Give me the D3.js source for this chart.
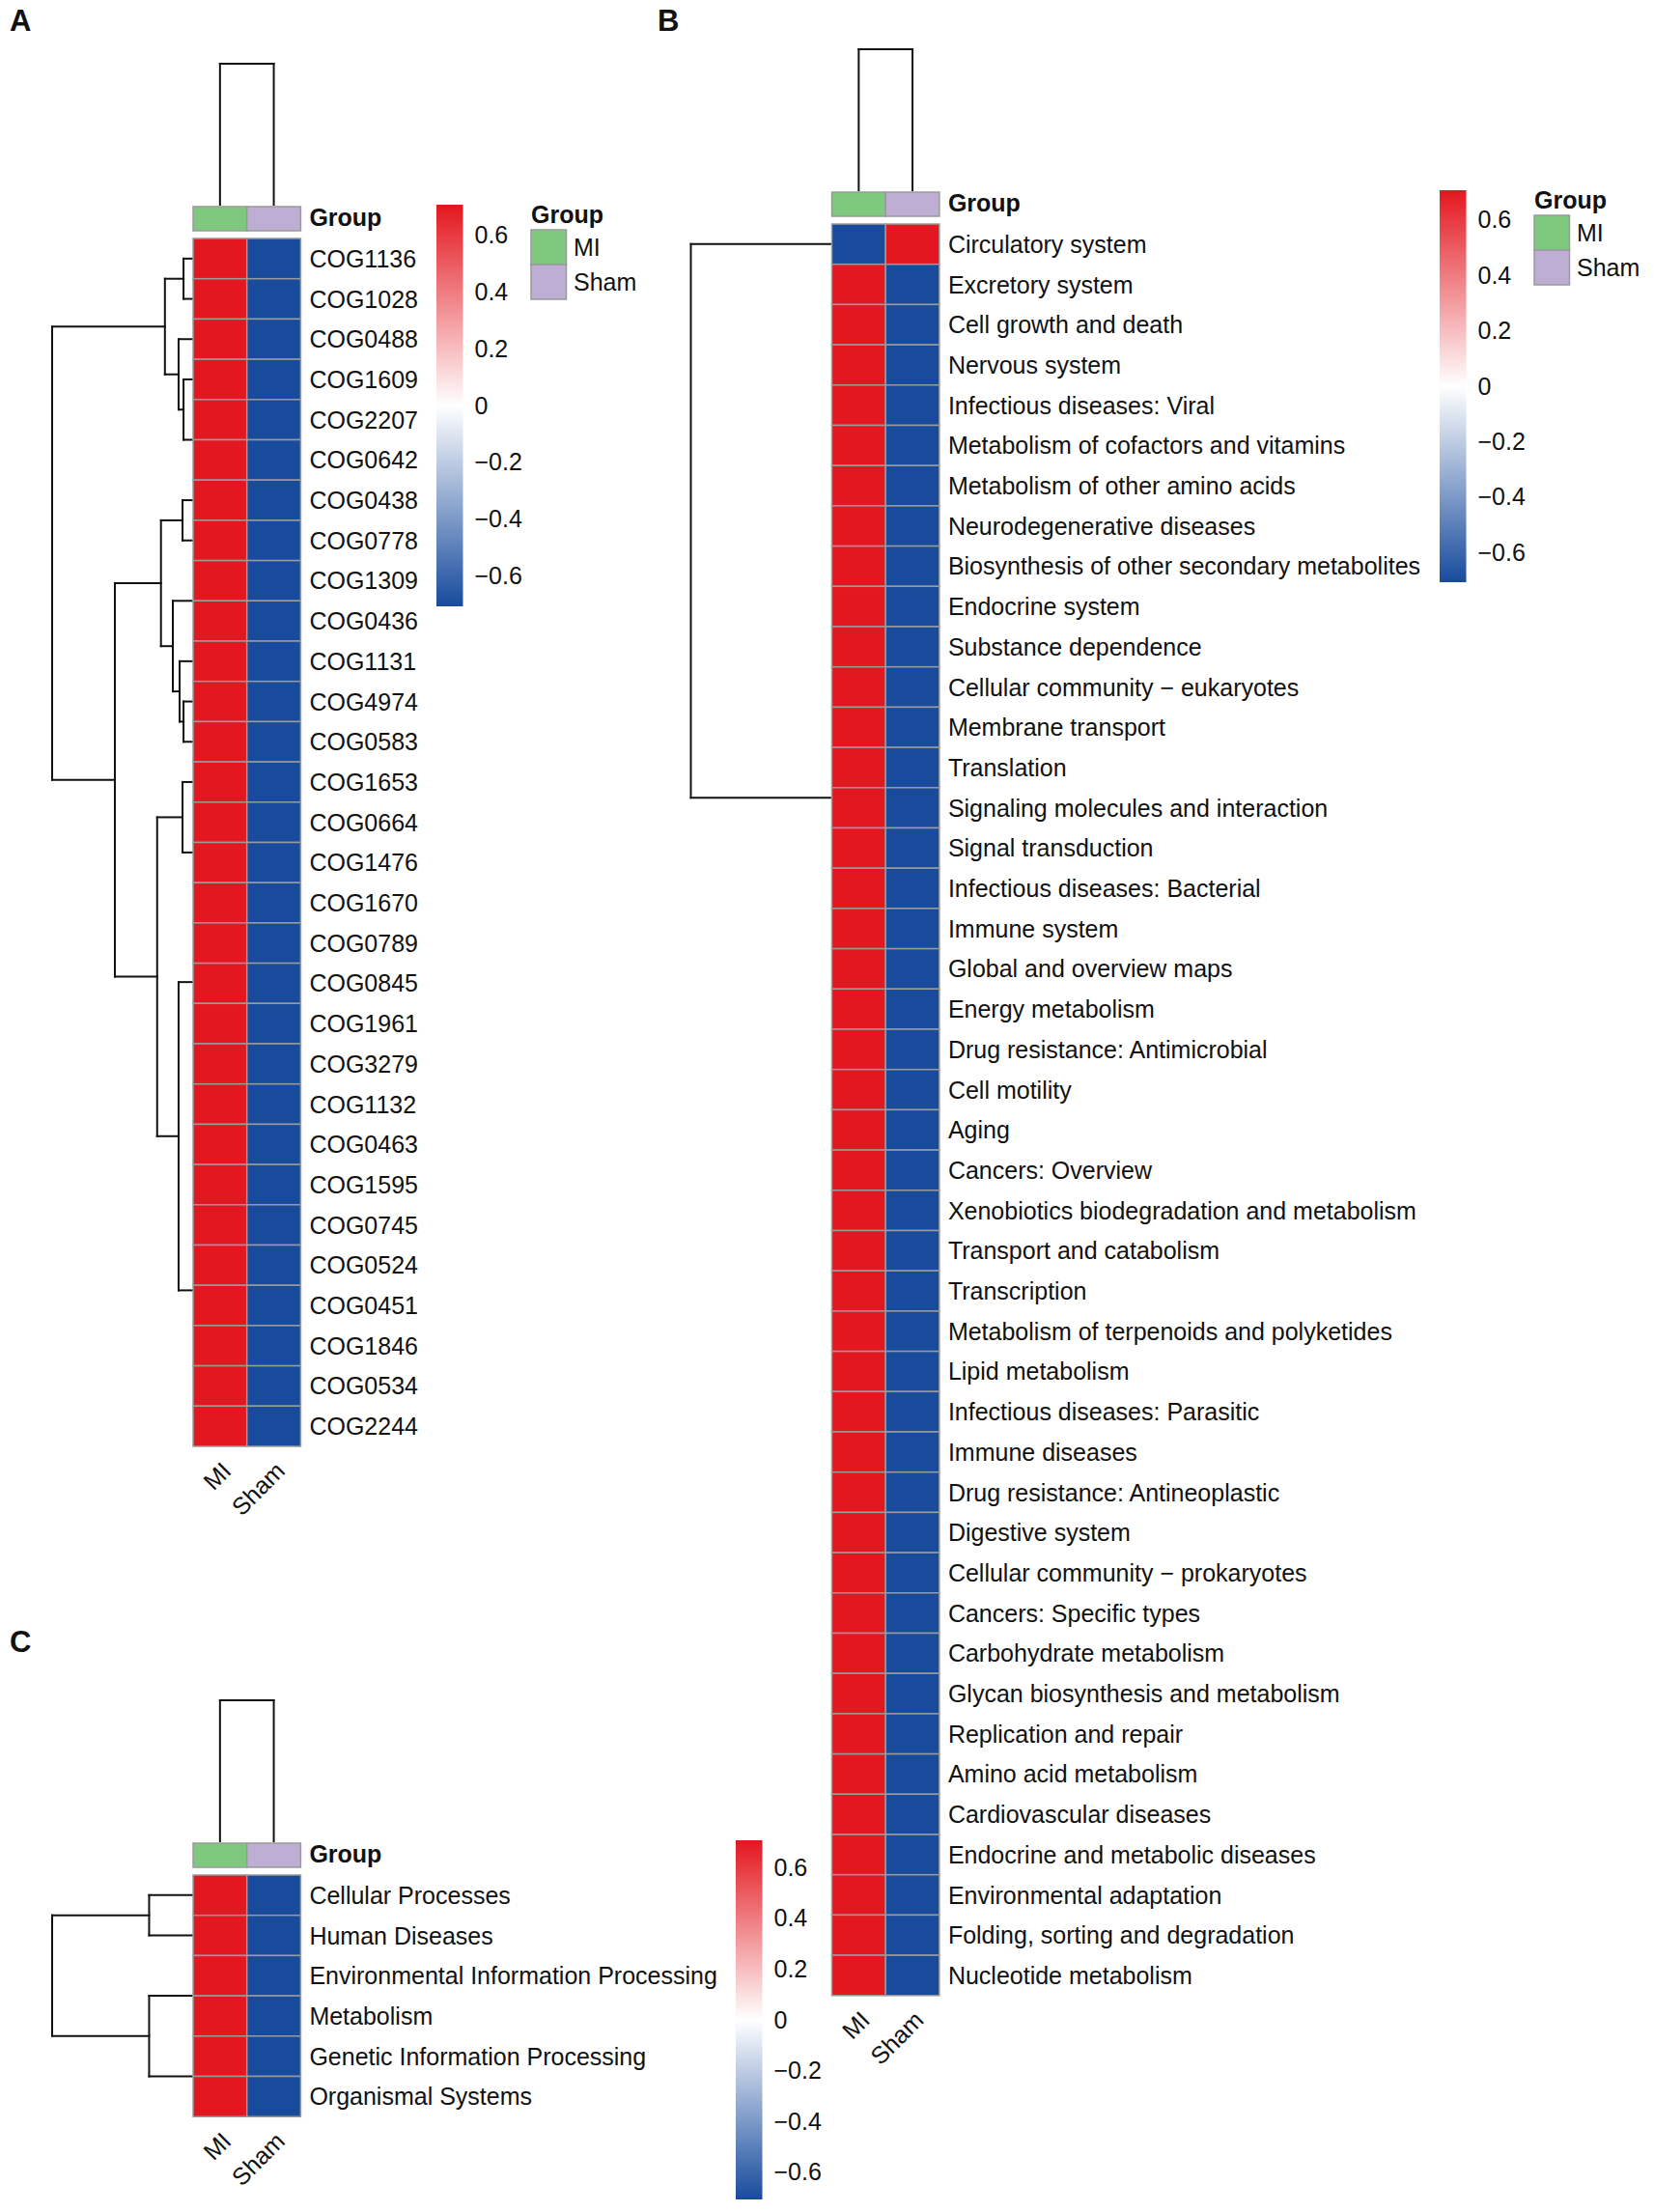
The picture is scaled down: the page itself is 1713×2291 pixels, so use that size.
<!DOCTYPE html>
<html>
<head>
<meta charset="utf-8">
<script src="https://cdn.jsdelivr.net/npm/d3@7"></script>
<style>
  body { margin: 0; background: #fff; }
  text { font-family: "Liberation Sans", Arial, sans-serif; fill: #111; }
</style>
</head>
<body>
<script>
// groups (columns) shared by the three heatmaps
const groups = ["MI", "Sham"];

// panel A: COG rows, row-scaled values
const rowsA = ["COG1136", "COG1028", "COG0488", "COG1609", "COG2207", "COG0642",
  "COG0438", "COG0778", "COG1309", "COG0436", "COG1131", "COG4974", "COG0583",
  "COG1653", "COG0664", "COG1476", "COG1670", "COG0789", "COG0845", "COG1961",
  "COG3279", "COG1132", "COG0463", "COG1595", "COG0745", "COG0524", "COG0451",
  "COG1846", "COG0534", "COG2244"];
const miA = [0.707, 0.707, 0.707, 0.707, 0.707, 0.707, 0.707, 0.707, 0.707, 0.707,
  0.707, 0.707, 0.707, 0.707, 0.707, 0.707, 0.707, 0.707, 0.707, 0.707,
  0.707, 0.707, 0.707, 0.707, 0.707, 0.707, 0.707, 0.707, 0.707, 0.707];
const shamA = [-0.707, -0.707, -0.707, -0.707, -0.707, -0.707, -0.707, -0.707, -0.707, -0.707,
  -0.707, -0.707, -0.707, -0.707, -0.707, -0.707, -0.707, -0.707, -0.707, -0.707,
  -0.707, -0.707, -0.707, -0.707, -0.707, -0.707, -0.707, -0.707, -0.707, -0.707];
// row dendrogram: [height, child, child...], leaves are row indexes
const treeA = [1.0,
  [0.2, [0.068, 0, 1], [0.103, 2, [0.068, 3, [0, 4, 5]]]],
  [0.555,
    [0.228, [0.075, 6, 7], [0.144, [0, 8, 9], [0.096, 10, [0.068, 11, 12]]]],
    [0.255,
      [0.075, 13, [0, 14, [0, 15, 16]]],
      [0.103,
        [0, 17, [0, 18, [0, 19, [0, 20, [0, 21, 22]]]]],
        [0, [0, 23, [0, 24, 25]], [0, [0, 26, 27], [0, 28, 29]]]]]]];

// panel B: KEGG level 2 pathways
const rowsB = ["Circulatory system", "Excretory system", "Cell growth and death",
  "Nervous system", "Infectious diseases: Viral", "Metabolism of cofactors and vitamins",
  "Metabolism of other amino acids", "Neurodegenerative diseases",
  "Biosynthesis of other secondary metabolites", "Endocrine system", "Substance dependence",
  "Cellular community \u2212 eukaryotes", "Membrane transport", "Translation",
  "Signaling molecules and interaction", "Signal transduction",
  "Infectious diseases: Bacterial", "Immune system", "Global and overview maps",
  "Energy metabolism", "Drug resistance: Antimicrobial", "Cell motility", "Aging",
  "Cancers: Overview", "Xenobiotics biodegradation and metabolism",
  "Transport and catabolism", "Transcription", "Metabolism of terpenoids and polyketides",
  "Lipid metabolism", "Infectious diseases: Parasitic", "Immune diseases",
  "Drug resistance: Antineoplastic", "Digestive system",
  "Cellular community \u2212 prokaryotes", "Cancers: Specific types",
  "Carbohydrate metabolism", "Glycan biosynthesis and metabolism",
  "Replication and repair", "Amino acid metabolism", "Cardiovascular diseases",
  "Endocrine and metabolic diseases", "Environmental adaptation",
  "Folding, sorting and degradation", "Nucleotide metabolism"];
const miB = [-0.707, 0.707, 0.707, 0.707, 0.707, 0.707, 0.707, 0.707, 0.707, 0.707, 0.707,
  0.707, 0.707, 0.707, 0.707, 0.707, 0.707, 0.707, 0.707, 0.707, 0.707, 0.707,
  0.707, 0.707, 0.707, 0.707, 0.707, 0.707, 0.707, 0.707, 0.707, 0.707, 0.707,
  0.707, 0.707, 0.707, 0.707, 0.707, 0.707, 0.707, 0.707, 0.707, 0.707, 0.707];
const shamB = [0.707, -0.707, -0.707, -0.707, -0.707, -0.707, -0.707, -0.707, -0.707, -0.707, -0.707,
  -0.707, -0.707, -0.707, -0.707, -0.707, -0.707, -0.707, -0.707, -0.707, -0.707, -0.707,
  -0.707, -0.707, -0.707, -0.707, -0.707, -0.707, -0.707, -0.707, -0.707, -0.707, -0.707,
  -0.707, -0.707, -0.707, -0.707, -0.707, -0.707, -0.707, -0.707, -0.707, -0.707, -0.707];
const treeB = [1.0, 0,
  [0, [0, 1, 2, 3, 4, 5],
      [0, 6, 7, 8, 9, 10, 11, 12, 13, 14, 15, 16, 17, 18, 19, 20, 21, 22, 23, 24, 25,
          26, 27, 28, 29, 30, 31, 32, 33, 34, 35, 36, 37, 38, 39, 40, 41, 42, 43]]];

// panel C: KEGG level 1
const rowsC = ["Cellular Processes", "Human Diseases", "Environmental Information Processing",
  "Metabolism", "Genetic Information Processing", "Organismal Systems"];
const miC = [0.707, 0.707, 0.707, 0.707, 0.707, 0.707];
const shamC = [-0.707, -0.707, -0.707, -0.707, -0.707, -0.707];
const treeC = [1.0, [0.312, 0, 1], [0.312, [0, 2, 3], [0, 4, 5]]];

// column dendrogram (same in every panel)
const colTree = [1.0, 0, 1];

const colorTicks = [-0.6, -0.4, -0.2, 0, 0.2, 0.4, 0.6];

const W = 1713, H = 2291;
const svg = d3.select("body").append("svg").attr("width", W).attr("height", H);

const red = "#e3171f", blue = "#184b9c";
const color = d3.scaleLinear().domain([-0.707, 0, 0.707]).range([blue, "#ffffff", red]);
const groupColor = d3.scaleOrdinal().domain(groups).range(["#7fc97f", "#beaed4"]);

const cellW = 55.7, rowH = 41.7, dendW = 146, dendH = 146;
const border = "#9a9a9a";
const fs = 25;

// grad for colour keys
const grad = svg.append("defs").append("linearGradient")
  .attr("id", "key").attr("x1", 0).attr("x2", 0).attr("y1", 1).attr("y2", 0);
d3.range(0, 1.0001, 0.05).forEach(t => {
  grad.append("stop").attr("offset", t).attr("stop-color", color(-0.707 + t * 1.414));
});

function toHier(tree) {
  return d3.hierarchy(tree, d => Array.isArray(d) ? d.slice(1) : null);
}

// draws elbow dendrogram; pos(leafIndex) -> position along leaves, hpos(h) -> position along height
function dendro(g, tree, pos, hpos, vertical) {
  const root = toHier(tree);
  root.eachAfter(n => {
    n.h = n.children ? n.data[0] : 0;
    n.p = n.children ? d3.mean(n.children, c => c.p) : pos(n.data);
  });
  const segs = [];
  root.each(n => {
    if (!n.children) return;
    if (n.h > 0) {
      segs.push([hpos(n.h), d3.min(n.children, c => c.p), hpos(n.h), d3.max(n.children, c => c.p)]);
    }
    n.children.forEach(c => {
      if (n.h > 0) segs.push([hpos(n.h), c.p, hpos(c.h), c.p]);
    });
  });
  g.selectAll(null)
    .data(segs)
    .enter()
    .append("line")
    .attr("x1", d => vertical ? d[1] : d[0])
    .attr("y1", d => vertical ? d[0] : d[1])
    .attr("x2", d => vertical ? d[3] : d[2])
    .attr("y2", d => vertical ? d[2] : d[3])
    .attr("stroke", "#111")
    .attr("stroke-width", 2)
    .attr("stroke-linecap", "square");
}

function drawPanel(p) {
  const g = svg.append("g");
  const top = p.groupTop + 33;
  const x = d3.scaleBand().domain(d3.range(groups.length)).range([p.x0, p.x0 + groups.length * cellW]);
  const y = d3.scaleBand().domain(d3.range(p.rows.length)).range([top, top + p.rows.length * rowH]);
  const right = p.x0 + groups.length * cellW;

  // dendrograms
  const hx = d3.scaleLinear().domain([0, 1]).range([p.x0, p.x0 - dendW]);
  dendro(g, p.tree, i => y(i) + y.bandwidth() / 2, hx, false);
  const hy = d3.scaleLinear().domain([0, 1]).range([p.groupTop - 2, p.groupTop - 2 - dendH]);
  dendro(g, colTree, i => x(i) + x.bandwidth() / 2, hy, true);

  // group annotation bar
  g.selectAll(null)
    .data(groups)
    .enter()
    .append("rect")
    .attr("x", (d, i) => x(i))
    .attr("y", p.groupTop)
    .attr("width", x.bandwidth())
    .attr("height", 25)
    .attr("fill", d => groupColor(d))
    .attr("stroke", border)
    .attr("stroke-width", 1.5);
  g.append("text")
    .attr("x", right + 9)
    .attr("y", p.groupTop + 11)
    .attr("dominant-baseline", "central")
    .attr("font-size", fs)
    .attr("font-weight", "bold")
    .text("Group");

  // cells
  const cells = [];
  p.rows.forEach((r, i) => {
    cells.push({ r: i, c: 0, v: p.mi[i] });
    cells.push({ r: i, c: 1, v: p.sham[i] });
  });
  g.selectAll(null)
    .data(cells)
    .enter()
    .append("rect")
    .attr("x", d => x(d.c))
    .attr("y", d => y(d.r))
    .attr("width", x.bandwidth())
    .attr("height", y.bandwidth())
    .attr("fill", d => color(d.v))
    .attr("stroke", border)
    .attr("stroke-width", 1.5);

  // row labels
  g.selectAll(null)
    .data(p.rows)
    .enter()
    .append("text")
    .attr("x", right + 9)
    .attr("y", (d, i) => y(i) + y.bandwidth() / 2)
    .attr("dominant-baseline", "central")
    .attr("font-size", fs)
    .text(d => d);

  // column labels
  const bottom = top + p.rows.length * rowH;
  g.selectAll(null)
    .data(groups)
    .enter()
    .append("text")
    .attr("transform", (d, i) => `translate(${x(i) + x.bandwidth() / 2},${bottom + 14}) rotate(-45)`)
    .attr("text-anchor", "end")
    .attr("dominant-baseline", "hanging")
    .attr("font-size", fs)
    .text(d => d);

  // colour key
  const k = p.key;
  g.append("rect")
    .attr("x", k.x).attr("y", k.y0)
    .attr("width", 27.5).attr("height", k.y1 - k.y0)
    .attr("fill", "url(#key)");
  const ky = d3.scaleLinear().domain([-0.707, 0.707]).range([k.y1, k.y0]);
  const axis = g.append("g")
    .attr("transform", `translate(${k.x + 27.5},0)`)
    .call(d3.axisRight(ky).tickValues(colorTicks).tickSize(0).tickPadding(12)
      .tickFormat(d => d === 0 ? "0" : d3.format(".1f")(d)));
  axis.select(".domain").remove();
  axis.selectAll("text")
    .attr("font-size", fs)
    .attr("font-family", "Liberation Sans, Arial, sans-serif")
    .attr("fill", "#111");

  // group legend
  if (p.legend) {
    const L = p.legend;
    g.append("text")
      .attr("x", L.x)
      .attr("y", L.y - 16)
      .attr("dominant-baseline", "central")
      .attr("font-size", fs)
      .attr("font-weight", "bold")
      .text("Group");
    g.selectAll(null)
      .data(groups)
      .enter()
      .append("rect")
      .attr("x", L.x)
      .attr("y", (d, i) => L.y + i * 36)
      .attr("width", 36.5)
      .attr("height", 36)
      .attr("fill", d => groupColor(d))
      .attr("stroke", border)
      .attr("stroke-width", 1.5);
    g.selectAll(null)
      .data(groups)
      .enter()
      .append("text")
      .attr("x", L.x + 44)
      .attr("y", (d, i) => L.y + i * 36 + 18)
      .attr("dominant-baseline", "central")
      .attr("font-size", fs)
      .text(d => d);
  }

  // panel letter
  svg.append("text")
    .attr("x", p.letter.x)
    .attr("y", p.letter.y)
    .attr("font-size", 31)
    .attr("font-weight", "bold")
    .text(p.letter.t);
}

drawPanel({
  rows: rowsA, mi: miA, sham: shamA, tree: treeA,
  x0: 200, groupTop: 214,
  key: { x: 452, y0: 212, y1: 628 },
  legend: { x: 550, y: 238 },
  letter: { x: 10, y: 32, t: "A" }
});

drawPanel({
  rows: rowsB, mi: miB, sham: shamB, tree: treeB,
  x0: 861.5, groupTop: 199,
  key: { x: 1491, y0: 197, y1: 603 },
  legend: { x: 1589, y: 223 },
  letter: { x: 681, y: 32, t: "B" }
});

drawPanel({
  rows: rowsC, mi: miC, sham: shamC, tree: treeC,
  x0: 200, groupTop: 1909,
  key: { x: 762, y0: 1906, y1: 2278 },
  legend: null,
  letter: { x: 10, y: 1711, t: "C" }
});
</script>
</body>
</html>
